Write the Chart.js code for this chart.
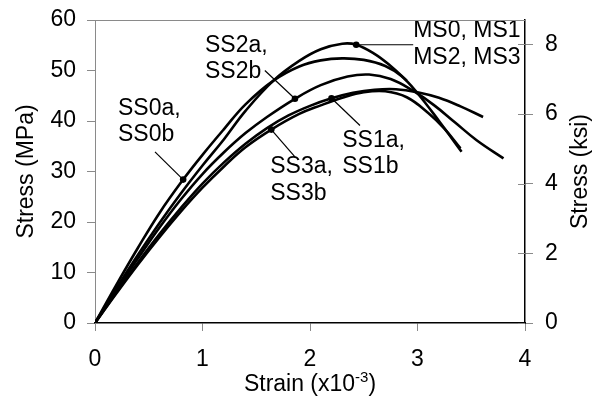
<!DOCTYPE html>
<html><head><meta charset="utf-8">
<script src="https://cdn.jsdelivr.net/npm/chart.js@4/dist/chart.umd.min.js"></script>
<style>html,body{margin:0;padding:0;background:#fff;}#wrap{width:598px;height:399px;}</style>
</head><body><div id="wrap"><canvas id="c" width="598" height="399"></canvas></div>
<script>
// ---- data (strain x10^-3, stress MPa) ----
const MPA_PER_KSI = 6.895;
const strainMS  = [0, 0.2, 0.4, 0.6, 0.8, 1.0, 1.2, 1.4, 1.66, 1.9, 2.1, 2.3, 2.43, 2.6, 2.75, 2.9];
const stressMS  = [0, 6.9, 13.5, 19.8, 25.7, 31.2, 36.4, 42.0, 48.0, 51.9, 54.2, 55.3, 55.1, 53.3, 50.9, 48.0];
const strainSS0 = [0, 0.2, 0.4, 0.6, 0.82, 1.0, 1.2, 1.4, 1.66, 1.9, 2.1, 2.3, 2.5, 2.7, 2.85, 3.0, 3.2, 3.41];
const stressSS0 = [0, 7.6, 14.9, 21.8, 28.4, 33.3, 38.4, 43.3, 48.0, 50.8, 52.0, 52.4, 52.1, 50.9, 48.9, 45.5, 40.0, 33.9];
const strainSS2 = [0, 0.2, 0.4, 0.6, 0.8, 1.0, 1.2, 1.4, 1.6, 1.86, 2.1, 2.35, 2.55, 2.75, 2.95, 3.15, 3.35, 3.55, 3.8];
const stressSS2 = [0, 6.5, 12.8, 18.9, 24.5, 29.5, 33.8, 37.6, 40.8, 44.4, 47.1, 48.8, 49.2, 48.3, 46.1, 43.2, 39.7, 36.2, 32.6];
const strainSS1 = [0, 0.2, 0.4, 0.6, 0.8, 1.0, 1.2, 1.4, 1.6, 1.8, 2.0, 2.2, 2.4, 2.6, 2.8, 3.0, 3.2, 3.4, 3.61];
const stressSS1 = [0, 6.1, 12.0, 17.6, 22.8, 27.6, 31.8, 35.5, 38.6, 41.1, 43.0, 44.5, 45.6, 46.2, 46.3, 45.7, 44.6, 42.9, 40.8];
const strainSS3 = [0, 0.2, 0.4, 0.6, 0.8, 1.0, 1.2, 1.4, 1.64, 1.9, 2.1, 2.3, 2.5, 2.7, 2.9, 3.1, 3.25, 3.4];
const stressSS3 = [0, 5.9, 11.6, 17.0, 22.1, 26.8, 31.0, 34.8, 38.3, 41.4, 43.1, 44.6, 45.7, 45.9, 44.7, 41.6, 38.5, 34.6];

// marker points on the curves
const markerStrain = [0.82, 1.86, 2.20, 1.64, 2.43];
const markerStress = [28.4, 44.4, 44.5, 38.3, 55.1];

// label texts and anchor (data units)
const labelLines  = [["SS0a,", "SS0b"], ["SS2a,", "SS2b"], ["MS0, MS1", "MS2, MS3"], ["SS1a,", "SS1b"], ["SS3a,", "SS3b"]];
const labelStrain = [0.214, 1.023, 2.96, 2.30, 1.63];
const labelStress = [42.5, 55.0, 57.8, 36.2, 31.0];
// leader line ends [strain0, stress0, strain1, stress1]
const leaders = [
  [0.558, 33.9, 0.82, 28.4],
  [1.58, 50.0, 1.86, 44.4],
  [2.43, 55.1, 2.96, 55.1],
  [2.465, 39.1, 2.20, 44.5],
  [1.86, 32.9, 1.64, 38.3]
];

const xTicks = [0, 1, 2, 3, 4];
const yTicksMPa = [0, 10, 20, 30, 40, 50, 60];
const yTicksKsi = [0, 2, 4, 6, 8];

const FONT = '"Liberation Sans", Arial, sans-serif';
const pts = (xs, ys) => xs.map((x, i) => ({x: x, y: ys[i]}));

const curve = (xs, ys) => ({
  data: pts(xs, ys), borderColor: '#000', borderWidth: 2.6, pointRadius: 0,
  showLine: true, tension: 0.4, fill: false
});

const datasets = [
  curve(strainMS, stressMS), curve(strainSS0, stressSS0), curve(strainSS2, stressSS2),
  curve(strainSS1, stressSS1), curve(strainSS3, stressSS3),
  { data: pts(markerStrain, markerStress), showLine: false, pointRadius: 3.3,
    pointBackgroundColor: '#000', pointBorderColor: '#000', pointBorderWidth: 0 }
];
leaders.forEach(l => datasets.push({
  data: [{x: l[0], y: l[1]}, {x: l[2], y: l[3]}], showLine: true,
  borderColor: '#000', borderWidth: 1.2, pointRadius: 0, fill: false
}));

const annot = {
  id: 'annot',
  afterDatasetsDraw(chart) {
    const ctx = chart.ctx, sx = chart.scales.x, sy = chart.scales.y;
    ctx.save();
    ctx.fillStyle = '#000';
    ctx.font = '23px ' + FONT;
    ctx.textAlign = 'left';
    ctx.textBaseline = 'middle';
    const lh = sy.getPixelForValue(0) - sy.getPixelForValue(5.3);
    labelLines.forEach((lines, i) => {
      const px = sx.getPixelForValue(labelStrain[i]);
      const py = sy.getPixelForValue(labelStress[i]);
      lines.forEach((t, k) => ctx.fillText(t, px, py + k * lh));
    });
    ctx.restore();
  },
  afterDraw(chart) {
    const ctx = chart.ctx, a = chart.chartArea;
    ctx.save();
    ctx.strokeStyle = '#8a8a8a'; ctx.lineWidth = 1;
    ctx.beginPath(); ctx.moveTo(a.left, a.top + 0.5); ctx.lineTo(a.right, a.top + 0.5); ctx.stroke();
    const y2 = chart.scales.y2;
    y2.ticks.forEach(t => {
      const p = Math.round(y2.getPixelForValue(t.value)) + 0.5;
      ctx.beginPath(); ctx.moveTo(a.right - 7, p); ctx.lineTo(a.right, p); ctx.stroke();
    });
    ctx.fillStyle = '#000';
    ctx.font = '23px ' + FONT;
    ctx.textBaseline = 'middle';
    ctx.textAlign = 'center';
    const cy = (a.top + a.bottom) / 2;
    ctx.save(); ctx.translate(27, cy); ctx.rotate(-Math.PI / 2); ctx.fillText('Stress (MPa)', 0, 0); ctx.restore();
    ctx.save(); ctx.translate(581, cy); ctx.rotate(-Math.PI / 2); ctx.fillText('Stress (ksi)', 0, 0); ctx.restore();
    const main = 'Strain (x10', sup = '-3', close = ')';
    ctx.textBaseline = 'alphabetic'; ctx.textAlign = 'left';
    ctx.font = '23px ' + FONT; const w1 = ctx.measureText(main).width; const w3 = ctx.measureText(close).width;
    ctx.font = '15px ' + FONT; const w2 = ctx.measureText(sup).width;
    const cx = (a.left + a.right) / 2;
    let x0 = cx - (w1 + w2 + w3) / 2;
    const base = 391;
    ctx.font = '23px ' + FONT; ctx.fillText(main, x0, base);
    ctx.font = '15px ' + FONT; ctx.fillText(sup, x0 + w1, base - 9);
    ctx.font = '23px ' + FONT; ctx.fillText(close, x0 + w1 + w2, base);
    ctx.restore();
  }
};

new Chart(document.getElementById('c'), {
  type: 'scatter',
  data: { datasets: datasets },
  options: {
    responsive: false, animation: false, devicePixelRatio: 1,
    layout: { padding: { top: 20, left: 0, right: 0, bottom: 0 } },
    plugins: { legend: { display: false }, tooltip: { enabled: false } },
    scales: {
      x: {
        type: 'linear', min: 0, max: 4,
        afterBuildTicks: s => { s.ticks = xTicks.map(v => ({value: v})); },
        afterFit: s => { s.height = 76; },
        ticks: { color: '#000', font: { size: 23, family: FONT }, padding: 15, maxRotation: 0 },
        grid: { drawOnChartArea: false, tickLength: 8, color: '#8a8a8a' },
        border: { color: '#000', width: 1.5 }
      },
      y: {
        type: 'linear', position: 'left', min: 0, max: 60,
        afterBuildTicks: s => { s.ticks = yTicksMPa.map(v => ({value: v})); },
        afterFit: s => { s.width = 95; },
        ticks: { color: '#000', font: { size: 23, family: FONT, lineHeight: 0.5 }, padding: 11 },
        grid: { drawOnChartArea: false, tickLength: 8, color: '#8a8a8a' },
        border: { color: '#8a8a8a', width: 1 }
      },
      y2: {
        type: 'linear', position: 'right', min: 0, max: 60 / MPA_PER_KSI,
        afterBuildTicks: s => { s.ticks = yTicksKsi.map(v => ({value: v})); },
        afterFit: s => { s.width = 73; },
        ticks: { color: '#000', font: { size: 23, family: FONT, lineHeight: 0.5 }, padding: 12 },
        grid: { drawOnChartArea: false, tickLength: 8, color: '#8a8a8a' },
        border: { color: '#000', width: 1.5 }
      }
    }
  },
  plugins: [annot]
});
</script></body></html>
